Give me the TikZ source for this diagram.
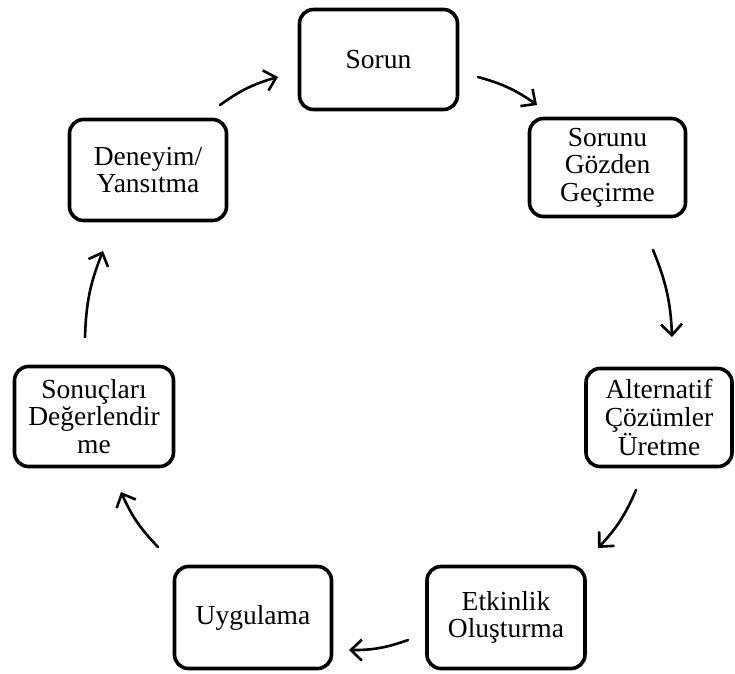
\documentclass[tikz,border=0pt]{standalone}
\usepackage{fontspec}
\setmainfont{Liberation Serif}
\usetikzlibrary{arrows.meta}
\begin{document}
\begin{tikzpicture}[x=1pt,y=-1pt,
  stage/.style={draw, line width=3.6pt, rounded corners=14pt, inner sep=0pt,
    align=center, fill=white, font=\fontsize{27.5}{27.5}\selectfont},
  flow/.style={line width=2.6pt, line cap=round,
    -{Straight Barb[length=11pt,width=21pt,line width=2.6pt]}}]
\useasboundingbox (0,0) rectangle (735,673);
\fill[white] (0,0) rectangle (735,673);

% stages of the cycle
\node[stage, minimum width=158pt, minimum height=100pt] (sorun)   at (378.5,59.5) {Sorun};
\node[stage, minimum width=156pt, minimum height=98pt]  (gozden)  at (607.5,167.5) {Sorunu\\Gözden\\Geçirme};
\node[stage, minimum width=146pt, minimum height=98pt]  (alt)     at (659,417.5) {Alternatif\\Çözümler\\Üretme};
\node[stage, minimum width=158pt, minimum height=102pt] (etk)     at (506,617.5) {Etkinlik\\Oluşturma};
\node[stage, minimum width=157pt, minimum height=102pt] (uyg)     at (253,617.5) {Uygulama};
\node[stage, minimum width=159pt, minimum height=100pt] (sonuc)   at (94,416.5) {Sonuçları\\Değerlendir\\me};
\node[stage, minimum width=157pt, minimum height=101pt] (deneyim) at (148,170) {Deneyim/\\Yansıtma};

% free ends of the curved arrows between stages
\coordinate (a1s) at (478,77);  \coordinate (a1e) at (537,105);
\coordinate (a2s) at (653,250); \coordinate (a2e) at (672,337);
\coordinate (a3s) at (636,490); \coordinate (a3e) at (598,548);
\coordinate (a4s) at (408,640); \coordinate (a4e) at (349,650);
\coordinate (a5s) at (158,547); \coordinate (a5e) at (121,492);
\coordinate (a6s) at (85,337);  \coordinate (a6e) at (103,251);
\coordinate (a7s) at (220,105); \coordinate (a7e) at (278,77);

\draw[flow] (a1s) to[bend left=10] (a1e);
\draw[flow] (a2s) to[bend left=10] (a2e);
\draw[flow] (a3s) to[bend left=10] (a3e);
\draw[flow] (a4s) to[bend left=10] (a4e);
\draw[flow] (a5s) to[bend left=10] (a5e);
\draw[flow] (a6s) to[bend left=10] (a6e);
\draw[flow] (a7s) to[bend left=10] (a7e);
\end{tikzpicture}
\end{document}
